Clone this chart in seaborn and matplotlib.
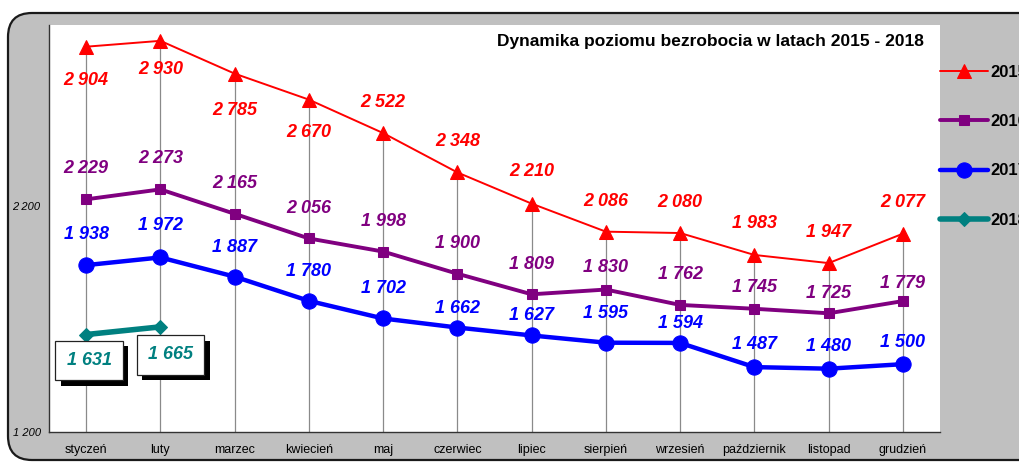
import numpy as np
import pandas as pd
import matplotlib
matplotlib.use("Agg")
import matplotlib.pyplot as plt
import matplotlib.patheffects as pe
from matplotlib.patches import FancyBboxPatch
from matplotlib.transforms import IdentityTransform
import seaborn as sns

# ---------------- data ----------------
months = ["styczeń", "luty", "marzec", "kwiecień", "maj", "czerwiec", "lipiec",
          "sierpień", "wrzesień", "październik", "listopad", "grudzień"]
y2015 = [2904, 2930, 2785, 2670, 2522, 2348, 2210, 2086, 2080, 1983, 1947, 2077]
y2016 = [2229, 2273, 2165, 2056, 1998, 1900, 1809, 1830, 1762, 1745, 1725, 1779]
y2017 = [1938, 1972, 1887, 1780, 1702, 1662, 1627, 1595, 1594, 1487, 1480, 1500]
y2018 = [1631, 1665]
series_names = ["2015", "2016", "2017", "2018"]
y_ticks = [1200, 2200]
title = "Dynamika poziomu bezrobocia w latach 2015 - 2018"

# label vertical offsets in pixels (positive = above the point) -- styling only
off2015 = [-34, -29, -37, -33, 31, 31, 32, 30, 31, 31, 31, 31]
off2016 = [31, 31, 30, 30, 30, 30, 30, 22, 30, 21, 20, 18]
off2017 = [31, 32, 29, 29, 30, 19, 20, 29, 19, 23, 22, 22]
off2018 = [-26, -28]

sns.set_theme(style="white")
plt.rcParams["font.family"] = ["Liberation Sans", "DejaVu Sans"]

W, H = 1019, 462
fig = plt.figure(figsize=(W / 100, H / 100), dpi=100)
fig.patch.set_facecolor("white")

# rounded grey frame
frame = FancyBboxPatch((8, 2), 1100, H - 13 - 2,
                       boxstyle="round,pad=0,rounding_size=24",
                       transform=IdentityTransform(), facecolor="#C0C0C0",
                       edgecolor="#1a1a1a", linewidth=1.6, zorder=-5)
fig.patches.append(frame)

ax = fig.add_axes([49 / W, 1 - 432 / H, (940 - 49) / W, (432 - 25) / H])
ax.set_facecolor("white")
ax.set_zorder(1)

x = np.arange(len(months))

# drop lines
ax.vlines(x, 1200, y2015, color="#8a8a8a", linewidth=0.9, zorder=1)

styles = {
    "2015": dict(color="#FF0000", marker="^", markersize=10, linewidth=1.4),
    "2016": dict(color="#800080", marker="s", markersize=7.5, linewidth=2.8),
    "2017": dict(color="#0000FF", marker="o", markersize=11, linewidth=3.2),
    "2018": dict(color="#008080", marker="D", markersize=7, linewidth=4.0),
}
data = {"2015": y2015, "2016": y2016, "2017": y2017, "2018": y2018}
for name in series_names:
    vals = data[name]
    st = styles[name]
    sns.lineplot(x=x[:len(vals)], y=vals, ax=ax, label=name, color=st["color"],
                 marker=st["marker"], markersize=st["markersize"],
                 markeredgecolor=st["color"], linewidth=st["linewidth"], zorder=3)


def fmt(v):
    return f"{v:,}".replace(",", " ")


lab_kw = dict(fontsize=13, fontweight="bold", fontstyle="italic",
              ha="center", va="center", textcoords="offset pixels", zorder=4)

for vals, offs, col in [(y2015, off2015, "#FF0000"),
                        (y2016, off2016, "#800080"),
                        (y2017, off2017, "#0000FF")]:
    for i, v in enumerate(vals):
        ax.annotate(fmt(v), (x[i], v), xytext=(0, offs[i]), color=col, **lab_kw)

for i, v in enumerate(y2018):
    t = ax.annotate(fmt(v), (x[i], v), xytext=(3 + 7 * i, off2018[i]), color="#008080",
                    bbox=dict(boxstyle="square,pad=0.62", fc="white", ec="#222222", lw=0.9),
                    **lab_kw)
    t.get_bbox_patch().set_path_effects([
        pe.SimplePatchShadow(offset=(4, -4), shadow_rgbFace="black", alpha=1.0),
        pe.Normal()])

# axes
ax.set_xlim(-0.5, len(months) - 0.5)
ax.set_ylim(1200, 3000)
ax.set_yticks(y_ticks)
ax.set_yticklabels([fmt(v) for v in y_ticks], fontsize=8, fontstyle="italic")
ax.set_xticks(x)
ax.set_xticklabels(months, fontsize=9, va="baseline")
ax.set_xticks(np.arange(-0.5, len(months)), minor=True)
ax.tick_params(axis="x", which="major", length=0, pad=15, colors="black")
ax.tick_params(axis="x", which="minor", length=4, width=0.9, direction="out", color="#333333")
ax.tick_params(axis="y", which="major", length=4, width=0.9, direction="out",
               color="#333333", pad=2, labelcolor="black")
for s in ["top", "right"]:
    ax.spines[s].set_visible(False)
for s in ["left", "bottom"]:
    ax.spines[s].set_color("#333333")
    ax.spines[s].set_linewidth(1.0)
ax.set_xlabel("")
ax.set_ylabel("")
ax.grid(False)

ax.text(0.982, 0.978, title, transform=ax.transAxes, ha="right", va="top",
        fontsize=12.5, fontweight="bold", color="black", zorder=5)

leg = ax.legend(loc="upper left", bbox_to_anchor=(940 / W, 1 - 65 / H),
                bbox_transform=fig.transFigure, frameon=False,
                handlelength=2.9, handletextpad=0.15, labelspacing=2.05,
                borderpad=0, borderaxespad=0, prop=dict(weight="bold", size=12))
for t in leg.get_texts():
    t.set_color("black")

fig.savefig("out.png", dpi=100, facecolor=fig.get_facecolor())
